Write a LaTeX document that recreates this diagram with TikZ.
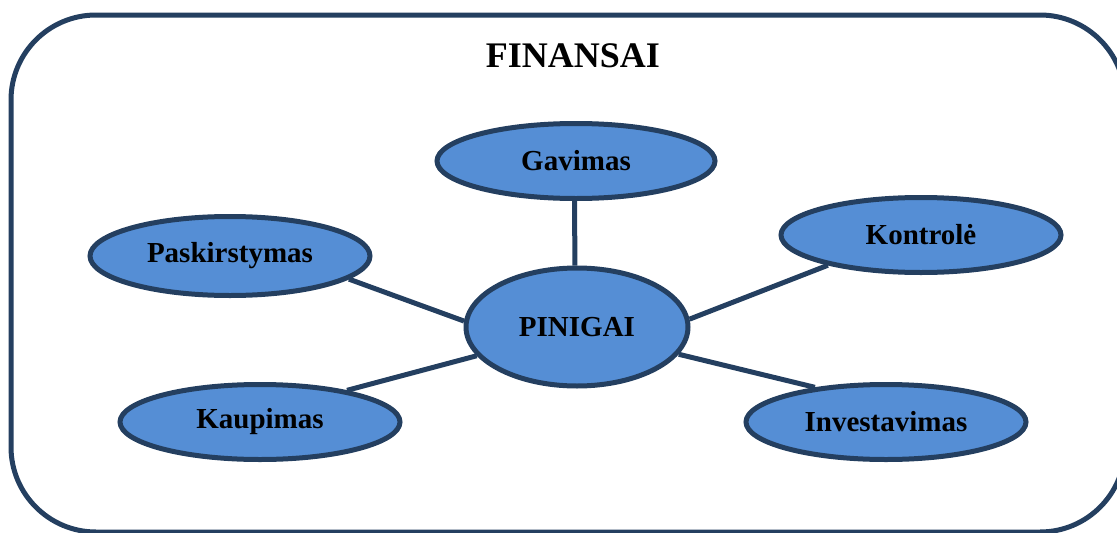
\documentclass[tikz,border=0pt]{standalone}
\usepackage{fontspec}
\setmainfont{Liberation Serif}
\usetikzlibrary{shapes.geometric}

\definecolor{edgeblue}{HTML}{243F60}
\definecolor{fillblue}{HTML}{558ED5}

\tikzset{
  frame/.style={draw=edgeblue, line width=5pt, rounded corners=85pt},
  leaf/.style={ellipse, draw=edgeblue, fill=fillblue, line width=5pt,
    minimum width=280pt, minimum height=75pt, inner sep=0pt,
    font=\fontsize{29}{34}\selectfont\bfseries},
  hub/.style={leaf, minimum width=222pt, minimum height=118pt},
  link/.style={draw=edgeblue, line width=5pt},
  heading/.style={font=\fontsize{36}{42}\selectfont\bfseries, inner sep=0pt}
}

\begin{document}
\begin{tikzpicture}[x=1pt, y=-1pt]
  \useasboundingbox (0,0) rectangle (1117,533);
  \clip (0,0) rectangle (1117,533);

  % outer frame
  \draw[frame] (11,15) rectangle (1125,532);
  \node[heading, anchor=base] (title) at (573,67) {FINANSAI};

  % centre and surrounding functions
  \node[hub] (pinigai) at (577,327) {PINIGAI};
  \node[leaf, minimum width=278pt] (gavimas) at (576,161) {Gavimas};
  \node[leaf, minimum height=79pt] (paskirstymas) at (230,256) {Paskirstymas};
  \node[leaf] (kontrole) at (921,235) {Kontrolė};
  \node[leaf] (kaupimas) at (260,422) {Kaupimas};
  \node[leaf] (investavimas) at (886,422) {Investavimas};

  % connectors
  \draw[link] (gavimas.268) -- (pinigai.92);
  \draw[link] (paskirstymas.-11) -- (pinigai.177);
  \draw[link] (kontrole.198) -- (pinigai.4);
  \draw[link] (kaupimas.20) -- (pinigai.196);
  \draw[link] (investavimas.154) -- (pinigai.-15);
\end{tikzpicture}
\end{document}
